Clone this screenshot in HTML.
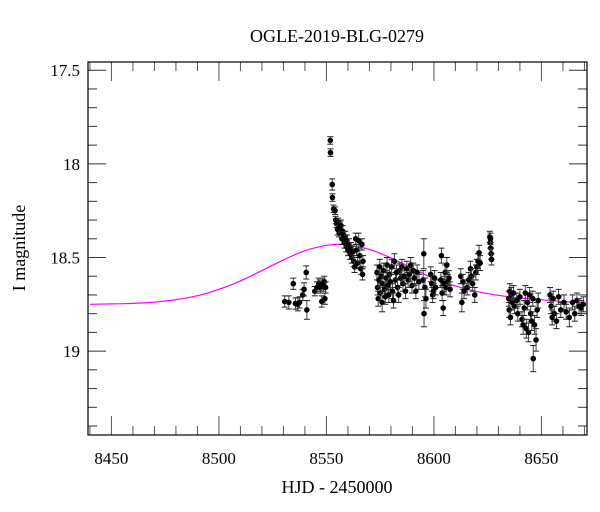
<!DOCTYPE html>
<html><head><meta charset="utf-8"><style>
html,body{margin:0;padding:0;background:#fff;width:600px;height:512px;overflow:hidden}
svg text{font-family:"Liberation Serif","DejaVu Serif",serif;fill:#000}
</style></head><body>
<svg id="chart" width="600" height="512" viewBox="0 0 600 512">
<text x="337" y="42" text-anchor="middle" font-size="18">OGLE-2019-BLG-0279</text>
<text x="337" y="493" text-anchor="middle" font-size="18">HJD - 2450000</text>
<text transform="translate(25,248) rotate(-90)" text-anchor="middle" font-size="18">I magnitude</text>
<g id="ticks"></g>
<g id="model"></g>
<g id="pts"></g>
<rect x="88" y="62" width="499" height="373" fill="none" stroke="#000" stroke-width="1.2"/>
</svg>
<script>
const xTicks=[8450,8500,8550,8600,8650];
const yTicks=[17.5,18,18.5,19];
const modelDays=[8440,8450,8460,8470,8480,8490,8500,8510,8520,8530,8540,8550,8556,8560,8570,8580,8590,8600,8610,8620,8630,8640,8650,8660,8670];
const modelMags=[18.750,18.748,18.745,18.738,18.725,18.704,18.670,18.625,18.570,18.513,18.464,18.435,18.430,18.432,18.457,18.502,18.558,18.612,18.652,18.682,18.702,18.716,18.726,18.735,18.742];
const days=[8530.6,8532.5,8534.6,8535.6,8536.7,8537.5,8539.0,8539.6,8540.6,8540.9,8544.6,8545.6,8546.4,8546.9,8547.3,8547.8,8548.2,8548.6,8549.0,8549.3,8549.6,
8551.8,8551.9,8552.7,8552.8,8553.3,8554.0,8554.3,8554.8,8555.2,8555.5,8555.9,8556.3,8556.8,8557.2,8557.6,8558.0,8558.4,8558.8,8559.2,8559.6,8560.0,8560.5,8561.0,8561.4,8561.8,8562.3,8562.7,8563.1,8563.6,8564.0,8564.5,8565.0,8565.5,8566.0,8566.5,8567.0,8566.8,
8573.5,8573.8,8574.1,8574.4,8574.8,8575.1,8575.5,8575.9,8576.2,8576.6,8577.0,8577.4,8577.8,8578.2,8578.6,8579.0,8579.4,8579.8,8580.3,8580.7,8581.2,8581.6,8582.1,8582.6,8583.1,8583.6,8584.1,8584.6,8585.1,8585.6,8586.2,8586.8,8587.4,8588.0,8588.6,8589.2,8589.8,8590.4,8591.0,8591.6,8592.2,8593.0,8595.3,8595.4,8595.0,8595.8,8596.3,8598.5,8599.0,8599.4,8599.8,8600.3,8600.8,8603.5,8603.2,8603.8,8604.3,8604.7,8605.2,8605.6,8606.0,8606.5,8607.0,8607.5,8612.5,8613.0,8613.5,8614.0,8615.5,8616.2,8617.0,8617.5,8618.0,8619.0,8619.5,8620.0,8620.5,8621.0,8621.5,8626.0,8626.2,8626.4,8626.6,8626.8,8626.3,
8634.8,8635.0,8635.3,8635.6,8636.0,8636.4,8637.0,8637.5,8638.5,8639.0,8640.0,8641.0,8641.5,8642.0,8642.5,8643.0,8643.5,8644.0,8644.5,8645.0,8645.5,8646.0,8646.2,8646.8,8647.5,8648.0,8648.5,8654.0,8654.5,8655.0,8655.5,8656.0,8657.0,8658.0,8659.0,8660.5,8661.5,8663.0,8664.5,8665.5,8666.5,8667.5,8668.5,8669.5];
const mags=[18.735,18.74,18.64,18.746,18.75,18.74,18.70,18.67,18.58,18.78,18.68,18.66,18.64,18.65,18.66,18.735,18.64,18.65,18.63,18.72,18.66,
17.875,17.94,18.11,18.18,18.24,18.25,18.30,18.32,18.35,18.31,18.37,18.34,18.33,18.40,18.36,18.38,18.42,18.39,18.44,18.41,18.46,18.43,18.48,18.45,18.50,18.47,18.52,18.55,18.40,18.46,18.53,18.41,18.49,18.56,18.43,18.52,18.59,
18.58,18.66,18.72,18.62,18.55,18.69,18.60,18.74,18.64,18.57,18.67,18.71,18.61,18.54,18.65,18.70,18.59,18.63,18.55,18.68,18.73,18.52,18.62,18.58,18.66,18.70,18.57,18.61,18.55,18.64,18.60,18.68,18.56,18.62,18.59,18.54,18.65,18.57,18.61,18.68,18.58,18.63,18.48,18.80,18.62,18.66,18.72,18.59,18.64,18.70,18.68,18.61,18.66,18.49,18.62,18.69,18.77,18.64,18.58,18.66,18.54,18.63,18.61,18.67,18.60,18.74,18.63,18.68,18.66,18.62,18.56,18.60,18.64,18.70,18.58,18.55,18.52,18.475,18.53,18.39,18.42,18.45,18.48,18.51,18.40,
18.72,18.78,18.68,18.82,18.70,18.74,18.69,18.76,18.73,18.80,18.71,18.83,18.86,18.77,18.69,18.88,18.74,18.90,18.70,18.80,18.84,18.72,19.04,18.86,18.94,18.78,18.73,18.70,18.76,18.82,18.72,18.80,18.84,18.71,18.78,18.74,18.79,18.82,18.74,18.80,18.73,18.76,18.77,18.75];
const errs=[0.03,0.035,0.03,0.03,0.035,0.03,0.03,0.035,0.035,0.05,0.025,0.03,0.03,0.03,0.03,0.03,0.03,0.03,0.03,0.03,0.03,
0.02,0.02,0.03,0.02,0.02,0.02,0.02,0.02,0.03,0.02,0.02,0.03,0.03,0.03,0.03,0.02,0.03,0.03,0.03,0.03,0.03,0.03,0.03,0.03,0.03,0.03,0.03,0.03,0.03,0.03,0.03,0.04,0.03,0.03,0.03,0.03,0.03,
0.04,0.04,0.04,0.04,0.04,0.04,0.04,0.05,0.04,0.04,0.04,0.04,0.04,0.04,0.04,0.04,0.04,0.04,0.04,0.04,0.04,0.04,0.04,0.04,0.04,0.04,0.04,0.04,0.04,0.04,0.04,0.04,0.04,0.04,0.04,0.04,0.04,0.04,0.04,0.04,0.04,0.04,0.08,0.07,0.05,0.05,0.05,0.04,0.04,0.04,0.04,0.04,0.04,0.04,0.04,0.04,0.04,0.04,0.04,0.04,0.04,0.04,0.04,0.04,0.04,0.05,0.04,0.04,0.04,0.04,0.04,0.04,0.04,0.04,0.04,0.04,0.04,0.04,0.04,0.03,0.03,0.03,0.03,0.03,0.03,
0.04,0.04,0.04,0.04,0.04,0.04,0.04,0.04,0.04,0.04,0.04,0.04,0.05,0.04,0.04,0.05,0.04,0.05,0.04,0.04,0.05,0.04,0.07,0.05,0.06,0.04,0.04,0.04,0.04,0.04,0.04,0.04,0.04,0.04,0.04,0.04,0.04,0.05,0.04,0.04,0.04,0.04,0.04,0.04];

const NS='http://www.w3.org/2000/svg';
const X0=88,X1=587,Y0=62,Y1=435;
const dMin=8439.1,dMax=8671.2,mMin=17.456,mMax=19.448;
function xs(d){return X0+(d-dMin)/(dMax-dMin)*(X1-X0);}
function ys(m){return Y0+(m-mMin)/(mMax-mMin)*(Y1-Y0);}
function mk(tag,attrs,parent){const e=document.createElementNS(NS,tag);for(const k in attrs)e.setAttribute(k,attrs[k]);parent.appendChild(e);return e;}
const tg=document.getElementById('ticks');
for(let d=8440;d<=8670;d+=10){
  const major=xTicks.includes(d);const L=major?19:9;const x=xs(d);
  const t1=mk('line',{x1:x,x2:x,y1:Y1,y2:Y1-L,stroke:'#555','stroke-width':1},tg);
  
  
  mk('line',{x1:x,x2:x,y1:Y0,y2:Y0+L,stroke:'#555','stroke-width':1},tg);
}
xTicks.forEach(d=>{
  const t=mk('text',{x:xs(d),y:464,'text-anchor':'middle','font-size':17},tg);
  t.textContent=d;
  
  
});
for(let i=0;i<=19;i++){
  const m=17.5+i*0.1;const major=Math.abs(m*2-Math.round(m*2))<1e-6;const L=major?18:9;const y=ys(m);
  const t1=mk('line',{x1:X0,x2:X0+L,y1:y,y2:y,stroke:'#333','stroke-width':1},tg);
  
  
  mk('line',{x1:X1,x2:X1-L,y1:y,y2:y,stroke:'#333','stroke-width':1},tg);
}
yTicks.forEach(m=>{
  const t=mk('text',{x:80,y:ys(m)+6,'text-anchor':'end','font-size':17},tg);
  t.textContent=m;
  
  
});
const mg=document.getElementById('model');
const P=modelDays.map((d,i)=>[xs(d),ys(modelMags[i])]);
let dstr='M'+P[0][0].toFixed(1)+' '+P[0][1].toFixed(1);
for(let i=0;i<P.length-1;i++){
  const p0=P[Math.max(i-1,0)],p1=P[i],p2=P[i+1],p3=P[Math.min(i+2,P.length-1)];
  const c1=[p1[0]+(p2[0]-p0[0])/6,p1[1]+(p2[1]-p0[1])/6];
  const c2=[p2[0]-(p3[0]-p1[0])/6,p2[1]-(p3[1]-p1[1])/6];
  dstr+=' C'+c1[0].toFixed(1)+' '+c1[1].toFixed(1)+' '+c2[0].toFixed(1)+' '+c2[1].toFixed(1)+' '+p2[0].toFixed(1)+' '+p2[1].toFixed(1);
}
const p=mk('path',{d:dstr,fill:'none',stroke:'#ff00ff','stroke-width':1.2},mg);


const pg=document.getElementById('pts');
days.forEach((d,i)=>{
  const x=xs(d),y=ys(mags[i]),ya=ys(mags[i]-errs[i]),yb=ys(mags[i]+errs[i]);
  const g=mk('g',{},pg);
  
  
  mk('line',{x1:x,x2:x,y1:ya,y2:yb,stroke:'#444','stroke-width':1},g);
  mk('line',{x1:x-3,x2:x+3,y1:ya,y2:ya,stroke:'#222','stroke-width':1},g);
  mk('line',{x1:x-3,x2:x+3,y1:yb,y2:yb,stroke:'#222','stroke-width':1},g);
  mk('circle',{cx:x,cy:y,r:2.8,fill:'#000'},g);
});
</script>
</body></html>
